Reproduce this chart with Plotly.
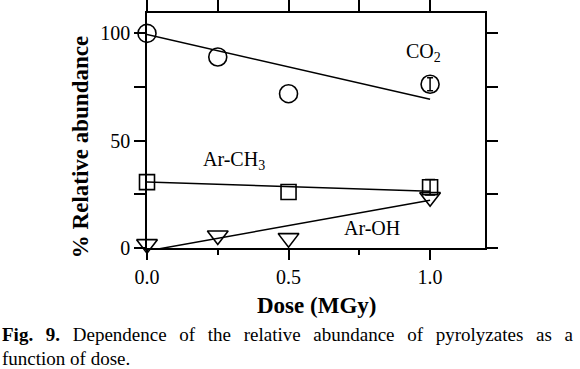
import plotly.graph_objects as go

# ---- data ----
dose = [0.0, 0.25, 0.5, 1.0]
co2 = [100.0, 89.0, 71.9, 76.3]
co2_err_last = 3.0

dose_ch3 = [0.0, 0.5, 1.0]
ar_ch3 = [30.7, 26.1, 28.3]
ar_ch3_err_last = 3.6

ar_oh = [1.8, 5.8, 4.6, 23.7]

fit_dose = [0.0, 1.0]
co2_fit = [99.5, 69.3]
ar_ch3_fit = [30.7, 26.5]
ar_oh_fit = [-1.4, 22.3]

x_range = [0, 1.194]
y_range = [0, 109.5]
x_ticks = [0.0, 0.5, 1.0]
x_ticktext = ["0.0", "0.5", "1.0"]
x_minor = [0.25, 0.75]
x_top_ticks = [0.0, 0.25, 0.5, 0.75, 1.0]
y_ticks = [0, 50, 100]
y_minor = [25, 75]

caption_bold = "Fig. 9."
caption_line1_words = ["Dependence", "of", "the", "relative", "abundance", "of", "pyrolyzates", "as", "a"]
caption_line2 = "function of dose."

SERIF = "Liberation Serif, Times New Roman, serif"
BLK = "black"

fig = go.Figure()

line_style = dict(color=BLK, width=1.5)
for yfit in (co2_fit, ar_ch3_fit, ar_oh_fit):
    fig.add_trace(go.Scatter(x=fit_dose, y=yfit, mode="lines", line=line_style,
                             showlegend=False, hoverinfo="skip"))

# error bars on the last point only
fig.add_trace(go.Scatter(
    x=[dose[-1]], y=[co2[-1]], mode="markers", cliponaxis=False, showlegend=False,
    marker=dict(size=1, opacity=0),
    error_y=dict(type="data", array=[co2_err_last], visible=True, color=BLK, thickness=1.5, width=3),
))
fig.add_trace(go.Scatter(
    x=[dose_ch3[-1]], y=[ar_ch3[-1]], mode="markers", cliponaxis=False, showlegend=False,
    marker=dict(size=1, opacity=0),
    error_y=dict(type="data", array=[ar_ch3_err_last], visible=True, color=BLK, thickness=1.5, width=5),
))

fig.add_trace(go.Scatter(
    x=dose, y=co2, mode="markers", cliponaxis=False, showlegend=False,
    marker=dict(symbol="circle-open", size=18, color=BLK, line=dict(color=BLK, width=1.6)),
))
fig.add_trace(go.Scatter(
    x=dose_ch3, y=ar_ch3, mode="markers", cliponaxis=False, showlegend=False,
    marker=dict(symbol="square-open", size=15, color=BLK, line=dict(color=BLK, width=1.6)),
))
fig.add_trace(go.Scatter(
    x=dose, y=ar_oh, mode="markers", cliponaxis=False, showlegend=False,
    marker=dict(symbol="triangle-down-open", size=18, color=BLK, line=dict(color=BLK, width=1.6)),
))

# empty trace so the top tick axis is drawn
fig.add_trace(go.Scatter(x=[], y=[], xaxis="x2", yaxis="y", showlegend=False, hoverinfo="skip"))

tickfont = dict(family=SERIF, size=20, color=BLK)

fig.update_layout(
    xaxis=dict(
        range=x_range, tickvals=x_ticks, ticktext=x_ticktext, ticklen=10,
        ticks="outside", tickcolor=BLK, tickwidth=1.5, tickfont=tickfont,
        minor=dict(tickvals=x_minor, ticks="outside", ticklen=5, tickcolor=BLK, tickwidth=1.5),
        showline=True, linecolor=BLK, linewidth=1.6, mirror=True,
        showgrid=False, zeroline=False, automargin=False,
    ),
    xaxis2=dict(
        range=x_range, overlaying="x", side="top", tickvals=x_top_ticks, ticklen=13,
        ticks="outside", tickcolor=BLK, tickwidth=1.5, showticklabels=False,
        showline=False, showgrid=False, zeroline=False, automargin=False,
    ),
    yaxis=dict(
        range=y_range, tickvals=y_ticks, ticklen=11,
        ticks="outside", tickcolor=BLK, tickwidth=1.5, tickfont=tickfont,
        minor=dict(tickvals=y_minor, ticks="outside", ticklen=6, tickcolor=BLK, tickwidth=1.5),
        showline=True, linecolor=BLK, linewidth=1.6, mirror="allticks",
        showgrid=False, zeroline=False, automargin=False,
    ),
)

GAP = " \u2004\u200a"
line1 = "<b>" + caption_bold.replace(" ", GAP) + "</b>" + GAP + GAP.join(caption_line1_words)

ann_font = dict(family=SERIF, size=20, color=BLK)
annotations = [
    dict(x=0.908, y=91.0, xref="x", yref="y", text="CO<sub>2</sub>", showarrow=False,
         xanchor="left", yanchor="middle", font=ann_font),
    dict(x=0.191, y=41.0, xref="x", yref="y", text="Ar-CH<sub>3</sub>", showarrow=False,
         xanchor="left", yanchor="middle", font=ann_font),
    dict(x=0.688, y=9.2, xref="x", yref="y", text="Ar-OH", showarrow=False,
         xanchor="left", yanchor="middle", font=ann_font),
    dict(x=0.5, y=-0.244, xref="paper", yref="paper", text="<b>Dose (MGy)</b>", showarrow=False,
         xanchor="center", yanchor="middle", font=dict(family=SERIF, size=23, color=BLK)),
    dict(x=-0.1986, y=0.4285, xref="paper", yref="paper", text="<b>% Relative abundance</b>",
         showarrow=False, textangle=-90, xanchor="center", yanchor="middle",
         font=dict(family=SERIF, size=23, color=BLK)),
    dict(x=-0.4336, y=-0.367, xref="paper", yref="paper", text=line1,
         showarrow=False, xanchor="left", yanchor="middle", align="left",
         font=dict(family=SERIF, size=19, color=BLK)),
    dict(x=-0.4336, y=-0.469, xref="paper", yref="paper", text=caption_line2,
         showarrow=False, xanchor="left", yanchor="middle", align="left",
         font=dict(family=SERIF, size=19, color=BLK)),
]

fig.update_layout(
    width=580, height=369,
    margin=dict(l=147, r=95, t=13, b=121, autoexpand=False),
    paper_bgcolor="white", plot_bgcolor="white",
    annotations=annotations,
    showlegend=False,
)

fig.write_html("out.html", config={"displayModeBar": False},
               post_script="document.body.style.margin='0';document.body.style.overflow='hidden';")
